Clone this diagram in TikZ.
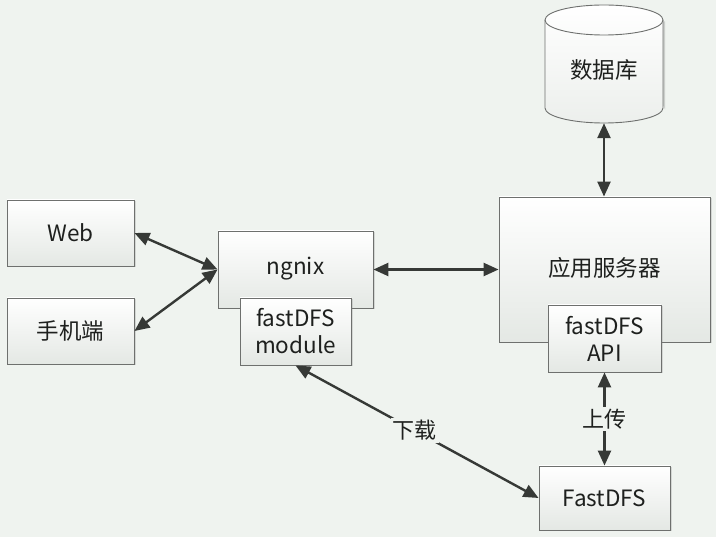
\documentclass[tikz,border=0pt]{standalone}
\usepackage{fontspec}
\setmainfont{Noto Sans CJK SC}
\usetikzlibrary{arrows.meta,shadows}
\definecolor{bgc}{HTML}{EFF3EF}
\definecolor{edge}{HTML}{6E706E}
\definecolor{arr}{HTML}{363936}
\definecolor{boxbot}{HTML}{E4E8E4}
\definecolor{txt}{HTML}{1E201E}
\tikzset{
  box/.style={draw=edge, line width=0.9pt, top color=white, bottom color=boxbot,
    drop shadow={opacity=0.25, shadow xshift=1.5pt, shadow yshift=-1.5pt},
    inner sep=0pt, font=\fontsize{22.5}{27}\selectfont, align=center, text=txt},
  boxtext/.style={font=\fontsize{22.5}{27}\selectfont, text=txt},
  link/.style={draw=arr, line width=2.4pt, {Triangle[length=15pt,width=13pt]}-{Triangle[length=15pt,width=13pt]}},
  lbl/.style={fill=bgc, inner sep=2pt, font=\fontsize{22}{26}\selectfont, text=txt}
}
\begin{document}
\begin{tikzpicture}[x=1pt,y=-1pt]
\fill[bgc] (0,0) rectangle (716,537);
\useasboundingbox (0,0) rectangle (716,537);
% boxes
\node[box, minimum width=127, minimum height=66] (web) at (70.5,233) {Web};
\node[box, minimum width=127, minimum height=66] (phone) at (70.5,331) {手机端};
\node[box, minimum width=155, minimum height=77] (ngx) at (295.5,269.5) {};
\node[boxtext] at (295.5,269) {ngnix};
\node[box, minimum width=111, minimum height=67] (mod) at (295.5,331.5) {fastDFS\\module};
\node[box, minimum width=211, minimum height=145] (app) at (604.5,269.5) {};
\node[boxtext] at (604.5,268) {应用服务器};
\node[box, minimum width=113, minimum height=67] (api) at (604.5,338.5) {fastDFS\\API};
\node[box, minimum width=131, minimum height=64] (fdfs) at (604.5,498) {FastDFS};
% database cylinder
\fill[black, opacity=0.15] (547,21.5) -- (547,109.5) arc[start angle=180, end angle=360, x radius=59, y radius=15] -- (665,21.5) -- cycle;
\path[draw=edge, line width=0.9pt, top color=white, bottom color=boxbot!70!white]
  (545,20) -- (545,108) arc[start angle=180, end angle=360, x radius=59, y radius=-15]
  -- (663,20) arc[start angle=0, end angle=180, x radius=59, y radius=-15] -- cycle;
\draw[edge, line width=0.9pt] (545,20) arc[start angle=180, end angle=360, x radius=59, y radius=-15];
\node[minimum width=118, minimum height=118, inner sep=0pt] (db) at (604,64) {};
\node[boxtext] at (604,70) {数据库};
% connectors
\draw[link] (web.east) -- (ngx.west);
\draw[link] (phone.east) -- (ngx.west);
\draw[link] (ngx.east) -- (app.west |- ngx.east);
\draw[link] (db.south) -- (app.north -| db.south);
\draw[link] (mod.south) -- node[lbl, pos=0.49] {下载} (fdfs.west);
\draw[link] (api.south) -- node[lbl] {上传} (fdfs.north);
\end{tikzpicture}
\end{document}
